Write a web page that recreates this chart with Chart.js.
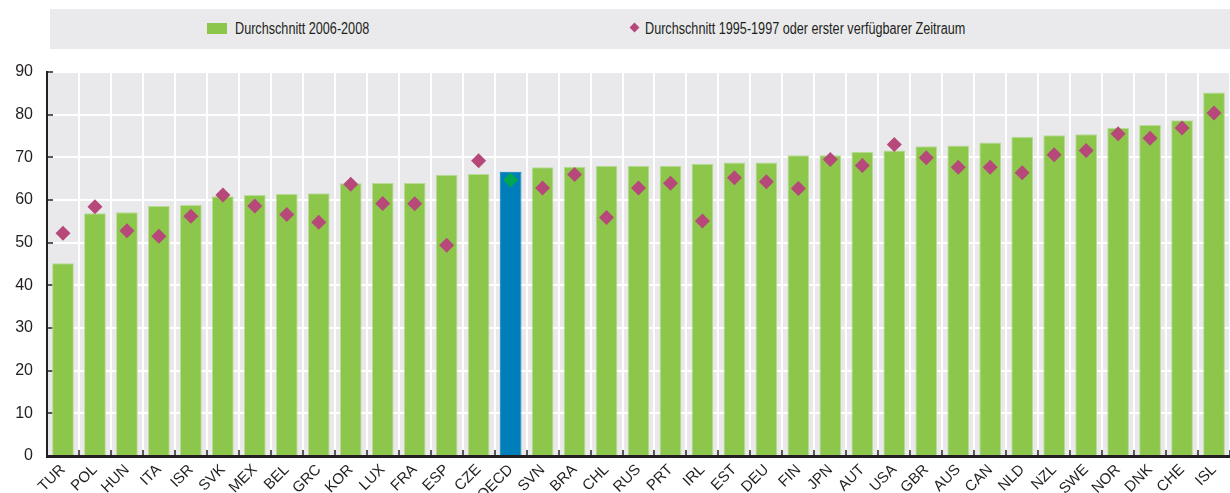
<!DOCTYPE html>
<html>
<head>
<meta charset="utf-8">
<script src="https://cdn.jsdelivr.net/npm/chart.js@4/dist/chart.umd.min.js"></script>
<style>
  html, body { margin: 0; padding: 0; background: #ffffff; }
  #wrap { position: relative; width: 1230px; height: 493px; overflow: hidden; }
  #chart { position: absolute; left: 0; top: 0; }
  #legend { position: absolute; left: 50px; top: 9px; width: 1180px; height: 40px; background: #eaeaec;
            font-family: "Liberation Sans Narrow", "Arial Narrow", "Liberation Sans", Arial, sans-serif; font-size: 16px; color: #231f20; }
  .lg { position: absolute; top: 0; height: 40px; line-height: 40px; white-space: nowrap; transform: scaleX(0.79); transform-origin: left center; }
  .sq { position: absolute; width: 20px; height: 11px; top: 14px; }
  .dm { position: absolute; width: 7px; height: 7px; top: 15px; transform: rotate(45deg); }
</style>
</head>
<body>
<div id="wrap">
  <canvas id="chart" width="1230" height="493"></canvas>
  <div id="legend">
    <div class="sq" style="left:157px;background:#8cc64a"></div>
    <div class="lg" style="left:185px">Durchschnitt 2006-2008</div>
    <div class="dm" style="left:581px;background:#b6487a"></div>
    <div class="lg" style="left:595px">Durchschnitt 1995-1997 oder erster verfügbarer Zeitraum</div>
  </div>
</div>
<script>
const categories = ["TUR","POL","HUN","ITA","ISR","SVK","MEX","BEL","GRC","KOR","LUX","FRA","ESP","CZE","OECD","SVN","BRA","CHL","RUS","PRT","IRL","EST","DEU","FIN","JPN","AUT","USA","GBR","AUS","CAN","NLD","NZL","SWE","NOR","DNK","CHE","ISL"];
const avg2006_2008 = [45.2,56.9,57.1,58.6,58.8,60.9,61.2,61.4,61.6,63.9,64.0,64.0,65.9,66.1,66.6,67.7,67.8,68.0,68.0,68.0,68.5,68.8,68.8,70.5,70.5,71.3,71.6,72.6,72.8,73.5,74.8,75.2,75.4,76.9,77.6,78.7,85.2];
const avg1995_1997 = [52.2,58.4,52.8,51.5,56.2,61.2,58.6,56.6,54.8,63.7,59.2,59.1,49.4,69.2,64.7,62.8,66.0,55.9,62.8,63.9,55.1,65.2,64.3,62.7,69.5,68.1,73.0,69.9,67.7,67.7,66.4,70.6,71.6,75.5,74.5,76.9,80.4];
const yTicks = [0,10,20,30,40,50,60,70,80,90];
const seriesNames = ["Durchschnitt 2006-2008", "Durchschnitt 1995-1997 oder erster verfügbarer Zeitraum"];

const GREEN = "#8cc64a", GREEN_EDGE = "#b9dc94", BLUE = "#007eba", MAG = "#b6487a", OECD_PT = "#00a651";
const FONT = "'Liberation Sans Narrow', 'Arial Narrow', 'Liberation Sans', Arial, sans-serif";

const barColors = categories.map(c => c === "OECD" ? BLUE : GREEN);
const barEdges = categories.map(c => c === "OECD" ? BLUE : GREEN_EDGE);
const ptColors = categories.map(c => c === "OECD" ? OECD_PT : MAG);

const bgPlugin = {
  id: "plotBg",
  beforeDraw(chart) {
    const { ctx, chartArea: a } = chart;
    ctx.save();
    ctx.fillStyle = "#e9e9ec";
    ctx.fillRect(a.left, a.top, a.right - a.left, a.bottom - a.top);
    ctx.restore();
  }
};

new Chart(document.getElementById("chart"), {
  data: {
    labels: categories,
    datasets: [
      {
        type: "line",
        label: seriesNames[1],
        data: avg1995_1997,
        showLine: false,
        pointStyle: "rectRot",
        pointRadius: 7.5,
        pointHoverRadius: 7.5,
        pointBackgroundColor: ptColors,
        pointBorderWidth: 0,
        pointBorderColor: ptColors,
        order: 0
      },
      {
        type: "bar",
        label: seriesNames[0],
        data: avg2006_2008,
        backgroundColor: barColors,
        borderColor: barEdges,
        borderWidth: 1,
        barPercentage: 0.68,
        categoryPercentage: 1.0,
        order: 1
      }
    ]
  },
  options: {
    responsive: false,
    animation: false,
    devicePixelRatio: 1,
    layout: { autoPadding: false, padding: { top: 72, left: 0, right: 0, bottom: 0 } },
    plugins: { legend: { display: false }, tooltip: { enabled: false } },
    scales: {
      x: {
        offset: true,
        grid: { offset: true, color: "#ffffff", lineWidth: 2, tickColor: "#231f20", tickWidth: 1.5, tickLength: -6, drawTicks: true },
        border: { color: "#231f20", width: 3 },
        ticks: { color: "#231f20", font: { family: FONT, size: 15 }, maxRotation: 45, minRotation: 45, autoSkip: false, padding: 11 },
        afterFit(s) { s.height = 37; s.paddingRight = 0; s.paddingLeft = 0; }
      },
      y: {
        min: 0, max: 90,
        afterBuildTicks(s) { s.ticks = yTicks.map(v => ({ value: v })); },
        grid: { color: "#ffffff", lineWidth: 2, tickColor: "#231f20", tickWidth: 1.5, tickLength: -6, drawTicks: true },
        border: { color: "#231f20", width: 2 },
        ticks: { color: "#231f20", font: { family: FONT, size: 16 }, padding: 20 },
        afterFit(s) { s.width = 47; }
      }
    }
  },
  plugins: [bgPlugin]
});
</script>
</body>
</html>
